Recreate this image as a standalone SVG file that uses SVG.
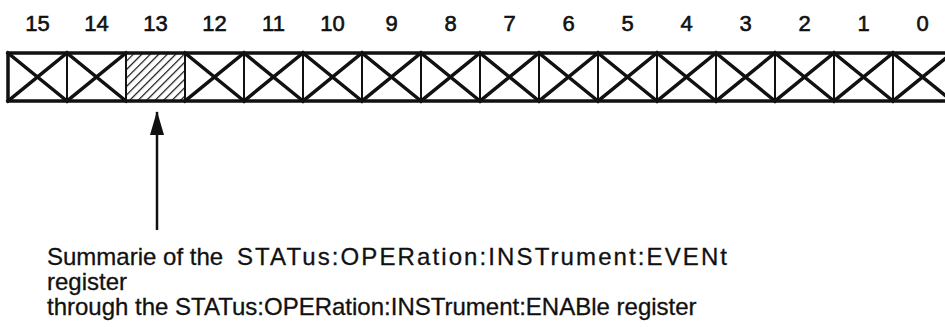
<svg xmlns="http://www.w3.org/2000/svg" width="945" height="327" viewBox="0 0 945 327">
  <style>
    .num { font-family: "Liberation Sans", Arial, sans-serif; font-size: 22px; fill: #111; stroke: #111; stroke-width: 0.6; text-anchor: middle; }
    .lbl { font-family: "Liberation Sans", Arial, sans-serif; font-size: 24px; fill: #111; stroke: #111; stroke-width: 0.3; white-space: pre; }
    .cell { fill: #fff; stroke: #111; stroke-width: 2; }
    .cross { stroke: #111; stroke-width: 3.5; stroke-linecap: square; }
    .frame { fill: none; stroke: #111; stroke-width: 3.5; }
    .conn { stroke: #111; stroke-width: 2.5; fill: none; }
  </style>
  <defs>
    <pattern id="hatch" patternUnits="userSpaceOnUse" width="6" height="6" patternTransform="rotate(45)">
      <rect width="6" height="6" fill="#fff"/>
      <line x1="0" y1="0" x2="0" y2="6" stroke="#111" stroke-width="2.4"/>
    </pattern>
    <marker id="arrow" viewBox="0 0 24 14" refX="23" refY="7" markerWidth="24" markerHeight="14" markerUnits="userSpaceOnUse" orient="auto">
      <path d="M0,0 L24,7 L0,14 Z" fill="#111"/>
    </marker>
  </defs>

  <!-- bit numbers -->
  <g id="bit-labels">
    <text class="num" x="37.5" y="31">15</text>
    <text class="num" x="96.5" y="31">14</text>
    <text class="num" x="155.5" y="31">13</text>
    <text class="num" x="214.5" y="31">12</text>
    <text class="num" x="273.5" y="31">11</text>
    <text class="num" x="332.5" y="31">10</text>
    <text class="num" x="391.5" y="31">9</text>
    <text class="num" x="450.5" y="31">8</text>
    <text class="num" x="509.5" y="31">7</text>
    <text class="num" x="568.5" y="31">6</text>
    <text class="num" x="627.5" y="31">5</text>
    <text class="num" x="686.5" y="31">4</text>
    <text class="num" x="745.5" y="31">3</text>
    <text class="num" x="804.5" y="31">2</text>
    <text class="num" x="863.5" y="31">1</text>
    <text class="num" x="922.5" y="31">0</text>
  </g>

  <!-- register cells: unused bits crossed out, bit 13 hatched -->
  <g id="register">
    <g id="bit15"><rect class="cell" x="8" y="53" width="59" height="48"/><path class="cross" d="M8,53 L67,101 M67,53 L8,101"/></g>
    <g id="bit14"><rect class="cell" x="67" y="53" width="59" height="48"/><path class="cross" d="M67,53 L126,101 M126,53 L67,101"/></g>
    <g id="bit13"><rect class="cell" x="126" y="53" width="59" height="48" style="fill:url(#hatch)"/></g>
    <g id="bit12"><rect class="cell" x="185" y="53" width="59" height="48"/><path class="cross" d="M185,53 L244,101 M244,53 L185,101"/></g>
    <g id="bit11"><rect class="cell" x="244" y="53" width="59" height="48"/><path class="cross" d="M244,53 L303,101 M303,53 L244,101"/></g>
    <g id="bit10"><rect class="cell" x="303" y="53" width="59" height="48"/><path class="cross" d="M303,53 L362,101 M362,53 L303,101"/></g>
    <g id="bit9"><rect class="cell" x="362" y="53" width="59" height="48"/><path class="cross" d="M362,53 L421,101 M421,53 L362,101"/></g>
    <g id="bit8"><rect class="cell" x="421" y="53" width="59" height="48"/><path class="cross" d="M421,53 L480,101 M480,53 L421,101"/></g>
    <g id="bit7"><rect class="cell" x="480" y="53" width="59" height="48"/><path class="cross" d="M480,53 L539,101 M539,53 L480,101"/></g>
    <g id="bit6"><rect class="cell" x="539" y="53" width="59" height="48"/><path class="cross" d="M539,53 L598,101 M598,53 L539,101"/></g>
    <g id="bit5"><rect class="cell" x="598" y="53" width="59" height="48"/><path class="cross" d="M598,53 L657,101 M657,53 L598,101"/></g>
    <g id="bit4"><rect class="cell" x="657" y="53" width="59" height="48"/><path class="cross" d="M657,53 L716,101 M716,53 L657,101"/></g>
    <g id="bit3"><rect class="cell" x="716" y="53" width="59" height="48"/><path class="cross" d="M716,53 L775,101 M775,53 L716,101"/></g>
    <g id="bit2"><rect class="cell" x="775" y="53" width="59" height="48"/><path class="cross" d="M775,53 L834,101 M834,53 L775,101"/></g>
    <g id="bit1"><rect class="cell" x="834" y="53" width="59" height="48"/><path class="cross" d="M834,53 L893,101 M893,53 L834,101"/></g>
    <g id="bit0"><rect class="cell" x="893" y="53" width="59" height="48"/><path class="cross" d="M893,53 L952,101 M952,53 L893,101"/></g>
    <path class="frame" d="M952,53 L8,53 L8,101 L952,101"/>
  </g>

  <!-- pointer from the description up to bit 13 -->
  <g id="connectors">
    <line class="conn" x1="157" y1="230" x2="157" y2="112" marker-end="url(#arrow)"/>
  </g>

  <g id="description">
    <text class="lbl" x="47" y="265">Summarie of the  <tspan x="237" textLength="490" lengthAdjust="spacing">STATus:OPERation:INSTrument:EVENt</tspan></text>
    <text class="lbl" x="47" y="290">register</text>
    <text class="lbl" x="47" y="315">through the STATus:OPERation:INSTrument:ENABle register</text>
  </g>
</svg>
